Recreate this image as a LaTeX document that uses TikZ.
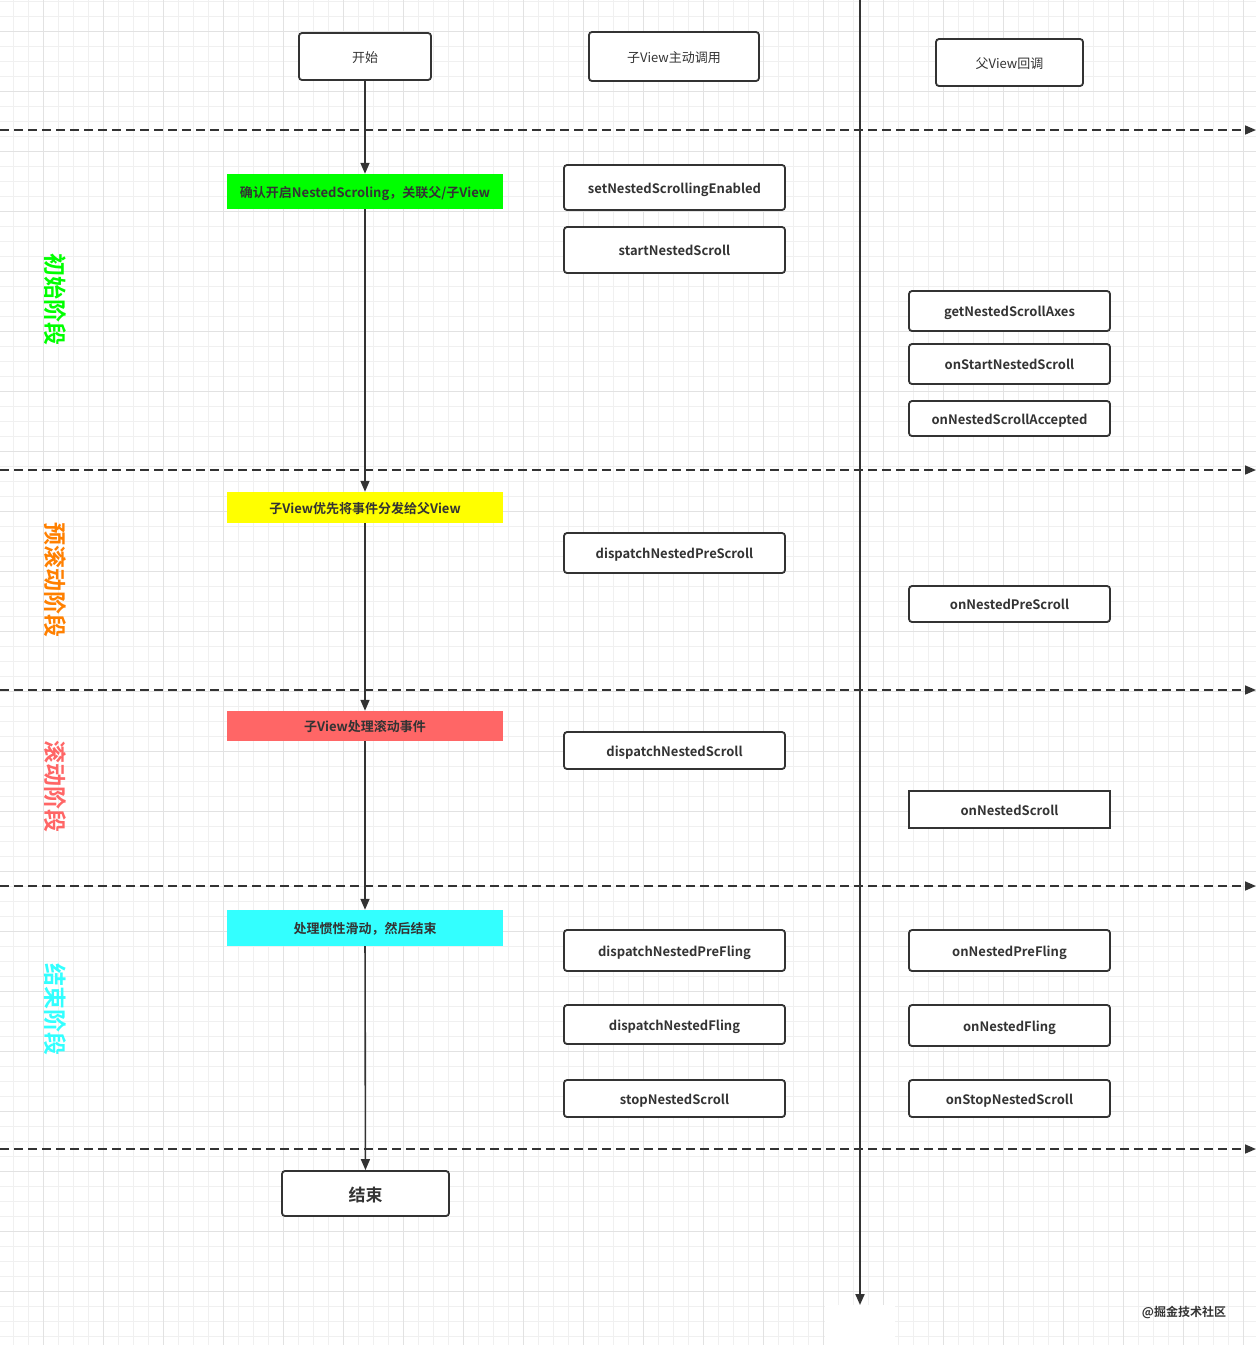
\documentclass[tikz,border=0pt]{standalone}
\usepackage{fontspec}
\setmainfont{Noto Sans CJK SC}[BoldFont={* Bold}]
\usetikzlibrary{arrows.meta}
\definecolor{ink}{HTML}{333333}
\definecolor{gridminor}{HTML}{F0F0F0}
\definecolor{gridmajor}{HTML}{E2E2E2}
\definecolor{phgreen}{HTML}{00FF00}
\definecolor{phyellow}{HTML}{FFFF00}
\definecolor{phred}{HTML}{FF6666}
\definecolor{phcyan}{HTML}{33FFFF}
\definecolor{phorange}{HTML}{FF8000}
\tikzset{
  box/.style={draw=ink, line width=1.8pt, rounded corners=3pt, fill=white,
    inner sep=0pt, text height=11pt, text depth=0pt,
    font=\fontsize{13}{15}\selectfont\bfseries, text=ink},
  headbox/.style={box, font=\fontsize{13}{15}\selectfont},
  stagebox/.style={inner sep=0pt, text height=11pt, text depth=0pt,
    font=\fontsize{13}{15}\selectfont\bfseries, text=ink, minimum width=276pt},
  flow/.style={draw=ink, line width=1.6pt, -{Triangle[length=11pt,width=9pt]}},
  divider/.style={draw=ink, line width=1.6pt, dash pattern=on 9pt off 5pt,
    -{Triangle[length=11pt,width=9pt]}},
  phase/.style={rotate=-90, font=\fontsize{23}{25}\selectfont\bfseries}
}
\begin{document}
\begin{tikzpicture}[x=1pt, y=-1pt]
\useasboundingbox (0,0) rectangle (1256,1345);
\fill[white] (0,0) rectangle (1256,1345);
% background grid
\foreach \gx in {13.3,28.3,...,1256} \draw[gridminor, line width=0.8pt] (\gx,0) -- (\gx,1345);
\foreach \gy in {1.7,16.7,...,1345} \draw[gridminor, line width=0.8pt] (0,\gy) -- (1256,\gy);
\foreach \gx in {43.3,103.3,...,1256} \draw[gridmajor, line width=1pt] (\gx,0) -- (\gx,1345);
\foreach \gy in {31.7,91.7,...,1345} \draw[gridmajor, line width=1pt] (0,\gy) -- (1256,\gy);

% column headers
\node[headbox, minimum width=132pt, minimum height=47pt] (start) at (365,56.5) {开始};
\node[headbox, minimum width=170pt, minimum height=49pt] (child) at (674,56.5) {子View主动调用};
\node[headbox, minimum width=147pt, minimum height=47pt] (parent) at (1009.5,62.5) {父View回调};

% phase dividers
\foreach \dy/\nm in {130/a,470/b,690/c,886/d,1149/e} {
  \coordinate (dl\nm) at (0,\dy);
  \coordinate (dr\nm) at (1256,\dy);
  \draw[divider] (dl\nm) -- (dr\nm);
}

% separator between the child and parent columns
\coordinate (septop) at (860,0);
\coordinate (sepbot) at (860,1305);
\draw[flow, line width=2pt] (septop) -- (sepbot);
\fill[white] (825,1305) rectangle (895,1345);

% stages of the main flow
\node[stagebox, fill=phgreen, minimum height=35pt] (s1) at (365,191.5) {确认开启NestedScroling，关联父/子View};
\node[stagebox, fill=phyellow, minimum height=31pt] (s2) at (365,507.5) {子View优先将事件分发给父View};
\node[stagebox, fill=phred, minimum height=30pt] (s3) at (365,726) {子View处理滚动事件};
\node[stagebox, fill=phcyan, minimum height=36pt] (s4) at (365,928) {处理惯性滑动，然后结束};
\node[box, minimum width=167pt, minimum height=45pt, text height=16pt,
  font=\fontsize{17}{19}\selectfont\bfseries] (end) at (365.5,1193.5) {结束};

\draw[flow] (start) -- (s1);
\draw[flow] (s1) -- (s2);
\draw[flow] (s2) -- (s3);
\draw[flow] (s3) -- (s4);
\draw[flow] (s4) -- (end);

% methods called by the child view
\begin{scope}[every node/.style={box, minimum width=221pt}]
\node[minimum height=45pt] (c1) at (674.5,187.5) {setNestedScrollingEnabled};
\node[minimum height=46pt] (c2) at (674.5,250) {startNestedScroll};
\node[minimum height=40pt] (c3) at (674.5,553) {dispatchNestedPreScroll};
\node[minimum height=37pt] (c4) at (674.5,750.5) {dispatchNestedScroll};
\node[minimum height=41pt] (c5) at (674.5,950.5) {dispatchNestedPreFling};
\node[minimum height=39pt] (c6) at (674.5,1024.5) {dispatchNestedFling};
\node[minimum height=37pt] (c7) at (674.5,1098.5) {stopNestedScroll};
\end{scope}

% callbacks on the parent view
\begin{scope}[every node/.style={box, minimum width=201pt}]
\node[minimum height=40pt] (p1) at (1009.5,311) {getNestedScrollAxes};
\node[minimum height=40pt] (p2) at (1009.5,364) {onStartNestedScroll};
\node[minimum height=35pt] (p3) at (1009.5,418.5) {onNestedScrollAccepted};
\node[minimum height=36pt] (p4) at (1009.5,604) {onNestedPreScroll};
\node[minimum height=37pt, rounded corners=0pt] (p5) at (1009.5,809.5) {onNestedScroll};
\node[minimum height=41pt] (p6) at (1009.5,950.5) {onNestedPreFling};
\node[minimum height=41pt] (p7) at (1009.5,1025.5) {onNestedFling};
\node[minimum height=37pt] (p8) at (1009.5,1098.5) {onStopNestedScroll};
\end{scope}

% phase names
\node[phase, text=phgreen] (ph1) at (55,299) {初始阶段};
\node[phase, text=phorange] (ph2) at (55,580) {预滚动阶段};
\node[phase, text=phred] (ph3) at (55,786) {滚动阶段};
\node[phase, text=phcyan] (ph4) at (55,1009) {结束阶段};

\node[font=\fontsize{12}{14}\selectfont\bfseries, text=ink] (mark) at (1184,1312) {@掘金技术社区};
\end{tikzpicture}
\end{document}
